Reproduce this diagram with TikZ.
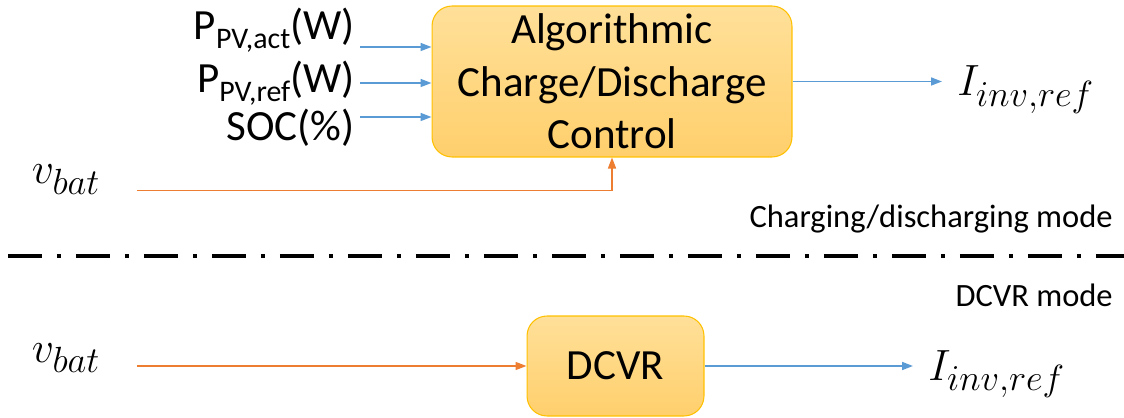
\documentclass[tikz,border=0pt]{standalone}
\usepackage{fontspec}
\setmainfont{Carlito}
\usepackage{tikz}
\usetikzlibrary{positioning,arrows.meta}

\definecolor{sigblue}{RGB}{91,155,213}
\definecolor{sigorange}{RGB}{237,125,49}
\definecolor{boxtop}{RGB}{255,224,153}
\definecolor{boxbot}{RGB}{255,207,108}
\definecolor{boxedge}{RGB}{255,192,0}

\newcommand{\pvsub}[1]{\raisebox{-0.19em}{\fontsize{17}{17}\selectfont #1}}

\begin{document}
\begin{tikzpicture}[
  x=0.02cm, y=-0.02cm,
  >={Triangle[length=0.22cm,width=0.16cm]},
  every node/.style={font=\fontsize{24.5}{30}\selectfont},
  box/.style={draw=boxedge, line width=0.6pt, rounded corners=0.4cm, top color=boxtop, bottom color=boxbot, align=center, inner sep=0pt},
  bluesig/.style={->, sigblue, line width=0.9pt},
  orangesig/.style={->, sigorange, line width=0.9pt},
  inlabel/.style={anchor=base east, inner sep=0pt},
  mathlabel/.style={font=\fontsize{28}{30}\selectfont, inner sep=0pt},
  vlabel/.style={font=\fontsize{31}{34}\selectfont, inner sep=0pt, anchor=base},
  modelabel/.style={font=\fontsize{18.5}{22}\selectfont, inner sep=0pt, anchor=base east},
  divider/.style={line width=2.8pt, dash pattern=on 0.68cm off 0.3cm on 0.08cm off 0.3cm}
]
\useasboundingbox (0,0) rectangle (1124,418);

\node[box, minimum width=7.2cm, minimum height=3.02cm] (ctrl) at (612,81.5) {Algorithmic\\Charge/Discharge\\Control};
\node[box, minimum width=3.54cm, minimum height=2cm] (dcvr) at (615.5,366) {DCVR};

\node[inlabel] (pact) at (355,40) {P\pvsub{PV,act}(W)};
\node[inlabel] (pref) at (355,93) {P\pvsub{PV,ref}(W)};
\node[inlabel] (soc) at (355,141) {SOC(\%)};
\coordinate (in1) at (360,47);
\coordinate (in2) at (360,83);
\coordinate (in3) at (360,117);
\draw[bluesig] (in1) -- (in1 -| ctrl.west);
\draw[bluesig] (in2) -- (in2 -| ctrl.west);
\draw[bluesig] (in3) -- (in3 -| ctrl.west);

\node[vlabel] (vbat1) at (66,184) {$v_{bat}$};
\coordinate (vb1) at (137,190.7);
\draw[orangesig] (vb1) -| (ctrl.south);

\node[mathlabel, inner xsep=0.3cm, anchor=base west] (iout1) at (942,96) {$I_{inv,ref}$};
\draw[bluesig] (ctrl.east) -- (ctrl.east -| iout1.west);

\node[modelabel] (chmode) at (1113,228) {Charging/discharging mode};
\coordinate (divL) at (8,256);
\coordinate (divR) at (1124,256);
\draw[divider] (divL) -- (divR);
\node[modelabel] (dcmode) at (1113,306) {DCVR mode};

\node[vlabel] (vbat2) at (66,362) {$v_{bat}$};
\coordinate (vb2) at (137,366);
\draw[orangesig] (vb2) -- (dcvr.west);

\node[mathlabel, inner xsep=0.3cm, anchor=base west] (iout2) at (913,380) {$I_{inv,ref}$};
\draw[bluesig] (dcvr.east) -- (dcvr.east -| iout2.west);
\end{tikzpicture}
\end{document}
